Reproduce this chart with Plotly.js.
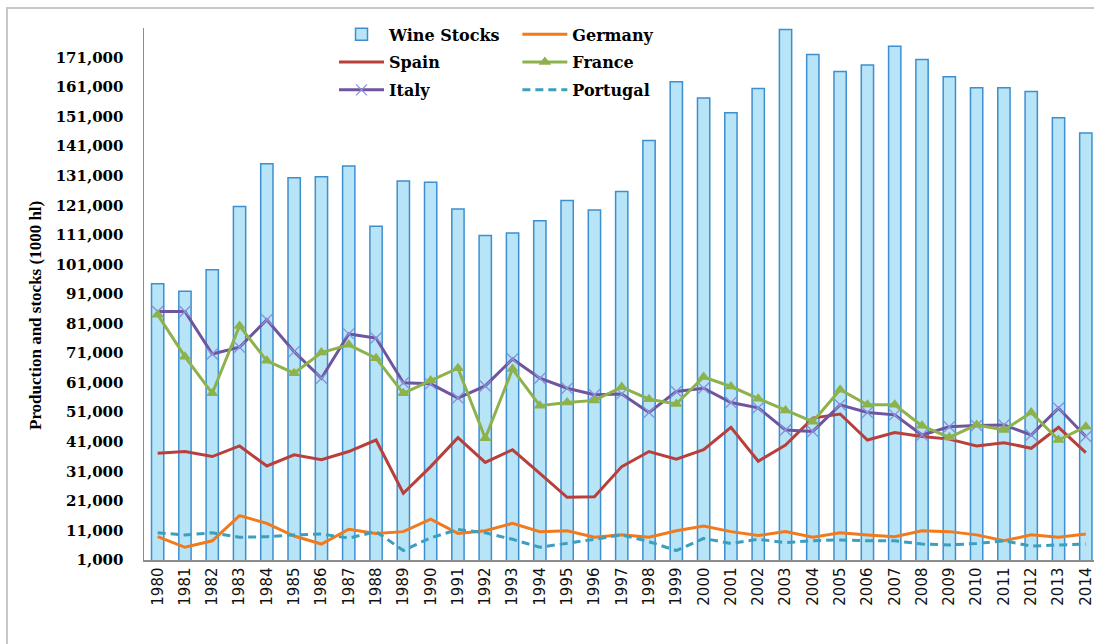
<!DOCTYPE html>
<html>
<head>
<meta charset="utf-8">
<script src="https://cdn.plot.ly/plotly-3.0.1.min.js"></script>
<style>
html,body{margin:0;padding:0;background:#fff;}
#chart{width:1094px;height:644px;}
</style>
</head>
<body>
<div id="chart"></div>
<script>
// ---- data (1000 hl) ----
const years = ["1980","1981","1982","1983","1984","1985","1986","1987","1988","1989","1990","1991","1992","1993","1994","1995","1996","1997","1998","1999","2000","2001","2002","2003","2004","2005","2006","2007","2008","2009","2010","2011","2012","2013","2014"];

const wineStocks = [94500,91900,99200,120600,135100,130300,130700,134300,113900,129200,128800,119800,110800,111600,115800,122600,119400,125700,142900,162800,157300,152300,160500,180500,172000,166300,168500,174800,170300,164500,160800,160800,159500,150600,145500];

const germany = [8900,5300,7500,16000,13400,9100,6400,11400,10000,10600,14800,10000,10900,13400,10600,10900,8700,9500,8700,10900,12500,10600,9300,10600,8700,10200,9500,8900,10900,10600,9500,7500,9500,8700,9800];

const spain = [37100,37700,36000,39600,32800,36600,34900,37700,41600,23600,32600,42400,34000,38300,30300,22200,22400,32600,37700,35100,38300,45900,34400,39900,49000,50400,41600,44100,42800,41900,39600,40700,38800,45900,37300];

const france = [84000,69800,57400,80200,68400,64200,71200,73800,69300,57400,61700,65900,42200,65600,53200,54300,55000,59500,55400,53800,62900,59700,55600,51600,47800,58600,53500,53500,46400,42500,46700,45000,50900,41600,46100];

const italy = [85100,85100,70700,73000,82300,71500,62500,77500,76100,61000,60600,55800,59900,69000,62500,59100,56900,57200,50900,58000,59100,54300,52500,45000,44500,53500,50900,50100,43300,46100,46500,46700,43300,52400,42800];

const portugal = [10200,9500,10200,8700,8900,9500,9800,8400,10600,4200,8500,11300,10200,8000,5300,6600,8000,9500,7200,4200,8300,6600,8000,6900,7500,7800,7500,7500,6400,6100,6600,7500,5700,6100,6400];

const yTickVals = [1000,11000,21000,31000,41000,51000,61000,71000,81000,91000,101000,111000,121000,131000,141000,151000,161000,171000];
const yTickText = ["1,000","11,000","21,000","31,000","41,000","51,000","61,000","71,000","81,000","91,000","101,000","111,000","121,000","131,000","141,000","151,000","161,000","171,000"];

const yTitle = "Production and stocks (1000 hl)";

// ---- styles ----
const serifBold = {family: "DejaVu Serif", size: 15, color: "#000", weight: "bold"};

const traces = [
  {type:"bar", name:"Wine Stocks", x:years, y:wineStocks, legend:"legend", legendgroup:"g1",
   marker:{color:"#b7e4f7", line:{color:"#3d8fd0", width:1.5}}},
  {type:"scatter", mode:"lines", name:"Spain", x:years, y:spain, legend:"legend", legendgroup:"g2",
   line:{color:"#b8403c", width:3}},
  {type:"scatter", mode:"lines+markers", name:"Italy", x:years, y:italy, legend:"legend", legendgroup:"g3",
   line:{color:"#6e559e", width:3},
   marker:{symbol:"x-thin-open", size:11, color:"#8a90dc", line:{color:"#8a90dc", width:1.3}}},
  {type:"scatter", mode:"lines", name:"Germany", x:years, y:germany, legend:"legend2", legendgroup:"g4",
   line:{color:"#f07a1e", width:3}},
  {type:"scatter", mode:"lines+markers", name:"France", x:years, y:france, legend:"legend2", legendgroup:"g5",
   line:{color:"#8db24c", width:3},
   marker:{symbol:"triangle-up", size:11, color:"#8db24c"}},
  {type:"scatter", mode:"lines", name:"Portugal", x:years, y:portugal, legend:"legend2", legendgroup:"g6",
   line:{color:"#3b9fbe", width:3, dash:"8px,5px"}}
];

const legendCommon = {
  orientation:"v", yanchor:"top", y:1.02, xanchor:"left",
  bgcolor:"rgba(255,255,255,0)", borderwidth:0,
  font:{family:"DejaVu Serif", size:16, color:"#000", weight:"bold"},
  itemwidth:45, tracegroupgap:4, traceorder:"grouped"
};

const layout = {
  width:1094, height:644,
  paper_bgcolor:"#ffffff", plot_bgcolor:"#ffffff",
  margin:{l:144, r:0, t:28, b:84, pad:0},
  bargap:0.55,
  showlegend:true,
  legend:Object.assign({}, legendCommon, {x:0.2}),
  legend2:Object.assign({}, legendCommon, {x:0.393}),
  xaxis:{
    type:"category", range:[-0.5, 34.3],
    showline:true, linecolor:"#8c8c8c", linewidth:1.5,
    showgrid:false, zeroline:false, ticks:"",
    tickangle:-90,
    tickfont:{family:"DejaVu Sans", size:15, color:"#111"}
  },
  yaxis:{
    range:[1000, 181000],
    tickvals:yTickVals, ticktext:yTickText,
    showline:true, linecolor:"#8c8c8c", linewidth:1.5,
    showgrid:false, zeroline:false, ticks:"",
    ticklabelstandoff:16,
    tickfont:serifBold
  },
  annotations:[{
    text:yTitle, textangle:-90, showarrow:false,
    xref:"paper", yref:"paper",
    x:(35-144)/950, y:(560-316)/532, xanchor:"center", yanchor:"middle",
    font:{family:"Liberation Serif", size:17, color:"#000", weight:"bold"}
  }],
  shapes:[{
    type:"rect", xref:"paper", yref:"paper",
    x0:(7-144)/950, x1:1.2, y0:-0.3, y1:(560-8)/532,
    line:{color:"#c8c8c8", width:2}, fillcolor:"rgba(0,0,0,0)", layer:"below"
  }]
};

Plotly.newPlot("chart", traces, layout, {displayModeBar:false, staticPlot:true});
</script>
</body>
</html>
